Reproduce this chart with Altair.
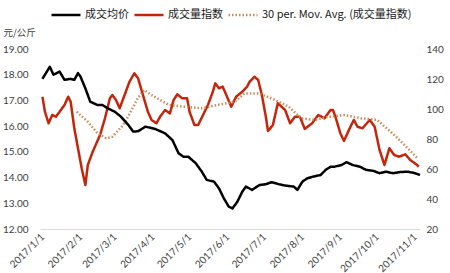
import altair as alt
import pandas as pd

# ---------------- data ----------------
price_dates = ["2017-01-01","2017-01-07","2017-01-10","2017-01-15","2017-01-19","2017-01-24","2017-01-27","2017-01-30",
               "2017-02-01","2017-02-05","2017-02-09","2017-02-15","2017-02-19","2017-02-23","2017-03-01","2017-03-06",
               "2017-03-12","2017-03-16","2017-03-20","2017-03-26","2017-04-03","2017-04-11","2017-04-17","2017-04-22",
               "2017-04-26","2017-04-30","2017-05-06","2017-05-11","2017-05-15","2017-05-21","2017-05-25","2017-05-29",
               "2017-06-02","2017-06-05","2017-06-09","2017-06-13","2017-06-16","2017-06-21","2017-06-27","2017-07-02",
               "2017-07-07","2017-07-13","2017-07-18","2017-07-25","2017-07-28","2017-08-01","2017-08-05","2017-08-10",
               "2017-08-16","2017-08-20","2017-08-24","2017-08-27","2017-09-02","2017-09-06","2017-09-11","2017-09-17",
               "2017-09-22","2017-09-28","2017-10-03","2017-10-08","2017-10-14","2017-10-19","2017-10-26","2017-11-01",
               "2017-11-05"]
price_values = [17.84,18.31,18.00,18.12,17.80,17.84,17.80,18.06,
                17.93,17.47,16.95,16.82,16.82,16.70,16.56,16.37,
                16.05,15.79,15.80,15.98,15.89,15.72,15.46,14.95,
                14.81,14.81,14.56,14.23,13.91,13.84,13.58,13.19,
                12.87,12.80,13.06,13.45,13.65,13.52,13.71,13.74,
                13.82,13.74,13.69,13.65,13.52,13.84,13.97,14.04,
                14.10,14.30,14.42,14.42,14.49,14.60,14.49,14.42,
                14.30,14.26,14.17,14.23,14.17,14.21,14.23,14.17,
                14.10]

index_dates = ["2017-01-01","2017-01-03","2017-01-06","2017-01-09","2017-01-12","2017-01-15","2017-01-19","2017-01-22",
               "2017-01-24","2017-01-27","2017-01-30","2017-02-02","2017-02-05","2017-02-07","2017-02-11","2017-02-17",
               "2017-02-21","2017-02-25","2017-02-27","2017-03-02","2017-03-05","2017-03-09","2017-03-13","2017-03-17",
               "2017-03-20","2017-03-24","2017-03-28","2017-03-31","2017-04-04","2017-04-07","2017-04-11","2017-04-15",
               "2017-04-18","2017-04-21","2017-04-25","2017-04-29","2017-05-01","2017-05-05","2017-05-08","2017-05-12",
               "2017-05-16","2017-05-20","2017-05-22","2017-05-25","2017-05-28","2017-05-31","2017-06-04","2017-06-08",
               "2017-06-13","2017-06-17","2017-06-19","2017-06-23","2017-06-26","2017-06-29","2017-07-02","2017-07-04",
               "2017-07-08","2017-07-12","2017-07-18","2017-07-22","2017-07-26","2017-07-30","2017-08-03","2017-08-09",
               "2017-08-14","2017-08-19","2017-08-24","2017-08-26","2017-08-28","2017-09-01","2017-09-04","2017-09-08",
               "2017-09-12","2017-09-15","2017-09-19","2017-09-25","2017-09-29","2017-10-03","2017-10-07","2017-10-11",
               "2017-10-15","2017-10-19","2017-10-24","2017-10-28","2017-11-02","2017-11-04"]
index_values = [108.2,98.2,90.5,96.0,94.9,98.2,102.7,108.2,
                104.9,87.1,73.8,60.5,49.3,62.7,71.5,82.7,
                93.8,107.1,109.3,106.0,100.5,109.3,118.2,123.8,
                120.5,109.3,98.2,92.7,90.5,94.9,99.3,97.1,
                106.0,109.8,107.1,107.1,98.2,89.3,89.3,96.0,
                102.7,111.5,117.1,113.8,114.9,109.3,101.5,108.2,
                111.5,114.9,118.2,121.5,119.3,109.3,96.0,85.3,
                89.3,103.8,99.3,90.5,94.9,94.9,86.7,90.5,
                96.0,93.8,99.3,99.3,94.9,83.8,78.7,86.0,
                92.7,88.2,87.1,92.7,88.2,72.7,62.7,73.8,
                69.3,68.2,69.8,66.0,63.1,61.5]

ma_dates = ["2017-01-29","2017-02-07","2017-02-15","2017-02-22","2017-02-27","2017-03-08","2017-03-14","2017-03-20",
            "2017-03-25","2017-03-31","2017-04-14","2017-04-27","2017-05-11","2017-05-24","2017-06-07","2017-06-15",
            "2017-06-26","2017-07-07","2017-07-21","2017-07-31","2017-08-11","2017-08-23","2017-09-04","2017-09-18",
            "2017-10-01","2017-10-15","2017-10-26","2017-11-03"]
ma_values = [98.2,91.5,83.8,80.5,81.5,89.3,98.2,107.5,
             112.7,109.3,102.7,101.5,100.5,102.7,104.9,110.4,
             110.4,107.1,101.5,93.8,92.7,94.9,96.0,93.8,
             92.7,82.7,73.8,67.1]

series_names = ["成交均价", "成交量指数", "30 per. Mov. Avg. (成交量指数)"]
series_colors = ["#000000", "#C4260C", "#C98B5A"]
left_ticks = [12, 13, 14, 15, 16, 17, 18, 19]
right_ticks = [20, 40, 60, 80, 100, 120, 140]
month_ticks = [alt.DateTime(year=2017, month=m, date=1) for m in range(1, 12)]

# ---------------- tables ----------------
left_df = pd.DataFrame({"date": pd.to_datetime(price_dates), "value": price_values,
                        "series": series_names[0]})
right_df = pd.concat([
    pd.DataFrame({"date": pd.to_datetime(index_dates), "value": index_values, "series": series_names[1]}),
    pd.DataFrame({"date": pd.to_datetime(ma_dates), "value": ma_values, "series": series_names[2]}),
], ignore_index=True)

label_font = "Lato"
legend_cfg = alt.Legend(orient="none", legendX=10, legendY=-50, direction="horizontal", title=None,
                        symbolType="stroke", symbolSize=840, labelFont="Noto Sans CJK SC",
                        labelFontSize=11, labelColor="#1a1a1a", labelOffset=3, columnPadding=0,
                        symbolStrokeWidth=2.5)

color = alt.Color("series:N", scale=alt.Scale(domain=series_names, range=series_colors), legend=legend_cfg)
dash = alt.StrokeDash("series:N", scale=alt.Scale(domain=series_names, range=[[1, 0], [1, 0], [1.5, 2]]),
                      legend=legend_cfg)
swidth = alt.StrokeWidth("series:N", scale=alt.Scale(domain=series_names, range=[2.5, 2.5, 1.5]),
                         legend=legend_cfg)

x_enc = alt.X("date:T",
              scale=alt.Scale(domain=[alt.DateTime(year=2016, month=12, date=30),
                                      alt.DateTime(year=2017, month=11, date=5)]),
              axis=alt.Axis(values=month_ticks, format="%Y/%-m/%-d", labelAngle=-45, labelAlign="right",
                            labelBaseline="middle", labelPadding=6, ticks=False, grid=False,
                            domainColor="#D9D9D9", domainWidth=1, labelFont=label_font, labelFontSize=10,
                            labelColor="#404040", title=None, labelOverlap=False))

left = alt.Chart(left_df).mark_line(strokeJoin="round").encode(
    x=x_enc,
    y=alt.Y("value:Q", scale=alt.Scale(domain=[12, 19], nice=False, zero=False),
            axis=alt.Axis(orient="left", values=left_ticks, format=".2f", ticks=False, domain=False,
                          grid=False, labelFont=label_font, labelFontSize=10, labelColor="#404040",
                          labelPadding=12, title="元/公斤", titleAngle=0, titleX=-37, titleY=-17,
                          titleAlign="left", titleBaseline="middle", titleFont="Noto Sans CJK SC",
                          titleFontSize=9.5, titleFontWeight="normal", titleColor="#404040")),
    color=color, strokeDash=dash, strokeWidth=swidth,
)

right = alt.Chart(right_df).mark_line(strokeJoin="round").encode(
    x=x_enc,
    y=alt.Y("value:Q", scale=alt.Scale(domain=[20, 140], nice=False, zero=False),
            axis=alt.Axis(orient="right", values=right_ticks, format="d", ticks=False, domain=False,
                          grid=False, labelFont=label_font, labelFontSize=10, labelColor="#404040",
                          labelPadding=6, title=None)),
    color=color, strokeDash=dash, strokeWidth=swidth,
    detail="series:N",
)

chart = alt.layer(right, left).resolve_scale(y="independent").properties(
    width=380, height=180,
    autosize=alt.AutoSizeParams(type="none"),
    padding={"left": 40, "top": 49, "right": 30, "bottom": 44},
    background="white",
).configure_view(stroke=None)

chart.save("out.html", embed_options={"renderer": "svg", "actions": False})
